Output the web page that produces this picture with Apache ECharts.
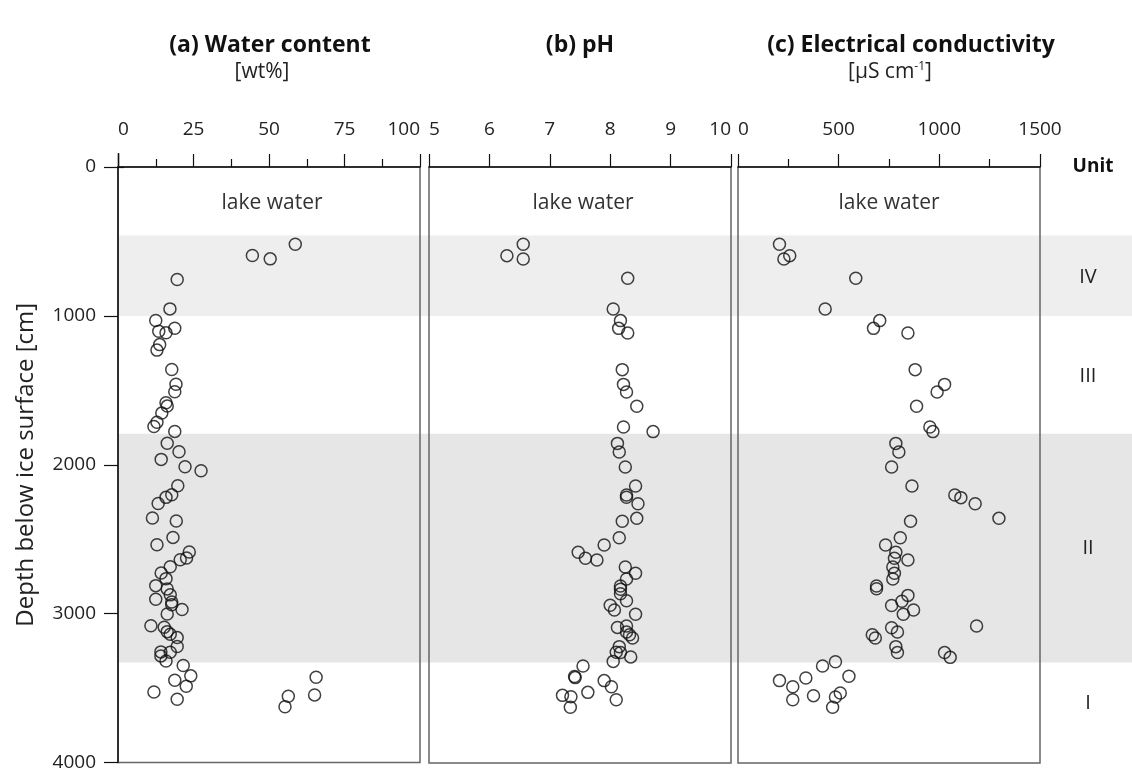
<!DOCTYPE html>
<html><head><meta charset="utf-8">
<script src="https://cdn.jsdelivr.net/npm/echarts@6/dist/echarts.min.js"></script>
<style>html,body{margin:0;padding:0;background:#fff}#c{width:1132px;height:772px}</style>
</head><body><div id="c"></div>
<script>
// ---- data ----
const wcDepth = [519,595,617,756,953,1031,1083,1103,1114,1193,1230,1360,1459,1510,1584,1606,1653,1714,1743,1776,1855,1913,1964,2013,2040,2141,2201,2219,2260,2358,2378,2488,2537,2586,2626,2638,2685,2727,2765,2812,2834,2874,2903,2922,2940,2972,3002,3081,3092,3121,3139,3161,3221,3257,3259,3284,3318,3349,3418,3427,3447,3488,3526,3546,3555,3575,3626];
const wcValue = [58.7,44.5,50.4,19.6,17.2,12.5,18.8,13.5,15.9,13.8,12.9,17.8,19.2,18.8,15.9,16.3,14.5,12.9,11.9,18.8,16.3,20.2,14.3,22.2,27.5,19.8,17.8,15.9,13.3,11.4,19.3,18.2,12.9,23.6,22.7,20.6,17.3,14.3,15.9,12.5,16.3,17.3,12.5,17.8,17.8,21.2,16.3,10.9,15.3,16.3,17.3,19.6,19.6,14.2,17.3,14.2,15.9,21.6,24.1,65.6,18.8,22.6,11.9,65.1,56.4,19.6,55.3];

const phDepth = [519,595,617,747,953,1031,1083,1114,1360,1459,1510,1606,1745,1776,1855,1913,2013,2141,2201,2217,2260,2358,2378,2488,2537,2586,2626,2638,2685,2727,2765,2812,2834,2864,2911,2941,2973,3002,3081,3090,3121,3139,3161,3219,3257,3259,3288,3318,3349,3420,3427,3447,3488,3526,3546,3555,3575,3626];
const phValue = [6.56,6.29,6.56,8.29,8.05,8.17,8.14,8.29,8.20,8.22,8.27,8.44,8.22,8.71,8.12,8.15,8.25,8.42,8.27,8.27,8.46,8.44,8.20,8.15,7.90,7.47,7.59,7.78,8.25,8.42,8.27,8.17,8.17,8.17,8.27,8.00,8.07,8.42,8.27,8.12,8.27,8.32,8.37,8.15,8.10,8.17,8.34,8.05,7.55,7.41,7.42,7.90,8.02,7.63,7.21,7.35,8.10,7.34];

const ecDepth = [519,595,617,747,953,1031,1083,1114,1360,1459,1510,1606,1745,1776,1855,1913,2013,2141,2201,2219,2260,2358,2378,2488,2537,2586,2626,2638,2685,2727,2765,2812,2830,2875,2915,2943,2973,3002,3081,3092,3121,3139,3161,3219,3259,3259,3291,3320,3349,3418,3430,3447,3488,3530,3548,3557,3575,3626];
const ecValue = [206,257,228,585,433,704,673,844,880,1026,989,887,953,968,784,799,763,864,1077,1107,1178,1296,857,806,733,784,777,844,769,777,769,688,688,844,814,763,872,821,1185,763,792,667,682,784,792,1026,1054,484,420,551,337,206,272,508,375,484,272,470];

const unitBands = [[460,1000],[1790,3325]];
const unitNames = ['IV','III','II','I'];
const panelTitles = ['(a) Water content','(b) pH','(c) Electrical conductivity'];

// ---- chart ----
const FONT = '"Open Sans", "Noto Sans", sans-serif';
const chart = echarts.init(document.getElementById('c'));
const TOP = 167, H = 596;
const gridBase = {top: TOP, height: H, show: true, borderColor: '#666', borderWidth: 1.5, backgroundColor: 'transparent'};
function xAx(gi, min, max, interval, minor, alignMin, alignMax) {
  return {
    gridIndex: gi, type: 'value', position: 'top', min: min, max: max, interval: interval,
    axisLine: {show: true, lineStyle: {color: '#111', width: 1.5}},
    axisTick: {show: true, length: 13, lineStyle: {color: '#111', width: 1.2}},
    minorTick: {show: minor, splitNumber: 2, length: 8, lineStyle: {color: '#111', width: 1.2}},
    axisLabel: {margin: 28, fontSize: 19, color: '#222', fontFamily: FONT,
      alignMinLabel: alignMin, alignMaxLabel: alignMax, formatter: v => String(v)},
    splitLine: {show: false}
  };
}
function yAx(gi, show) {
  return {
    gridIndex: gi, type: 'value', inverse: true, min: 0, max: 4000, interval: 1000, show: show,
    name: show ? 'Depth below ice surface [cm]' : '', nameLocation: 'middle', nameGap: 80, nameRotate: 90,
    nameTextStyle: {fontSize: 24, color: '#222', fontFamily: FONT},
    axisLine: {show: true, lineStyle: {color: '#111', width: 1.5}},
    axisTick: {show: true, length: 14, lineStyle: {color: '#111', width: 1.2}},
    axisLabel: {margin: 22, fontSize: 19, color: '#222', fontFamily: FONT, formatter: v => String(v)},
    splitLine: {show: false}
  };
}
function scat(xi, xs, ys) {
  return {
    type: 'scatter', xAxisIndex: xi, yAxisIndex: xi, symbol: 'circle', symbolSize: 12, z: 5,
    itemStyle: {color: 'rgba(0,0,0,0)', borderColor: '#111', borderWidth: 1.5},
    data: xs.map((v, i) => [v, ys[i]])
  };
}
const panelCenters = [272, 583, 889];
const graphics = [];
const titleX = [270, 580, 911];
panelTitles.forEach((t, i) => graphics.push({type: 'text', x: titleX[i], y: 45,
  style: {text: t, font: 'bold 23px ' + FONT, fill: '#111', textAlign: 'center', textVerticalAlign: 'middle'}}));
graphics.push({type: 'text', x: 262, y: 72, style: {text: '[wt%]', font: '21px ' + FONT, fill: '#222', textAlign: 'center', textVerticalAlign: 'middle'}});
graphics.push({type: 'text', x: 890, y: 72, style: {
  text: '[µS cm{s|-1}]', textAlign: 'center', textVerticalAlign: 'middle', font: '21px ' + FONT, fill: '#222',
  rich: {s: {fontSize: 12, verticalAlign: 'top', padding: [0, 0, 10, 0], fontFamily: FONT, fill: '#222'}}}});
panelCenters.forEach(cx => graphics.push({type: 'text', x: cx, y: 203,
  style: {text: 'lake water', font: '21px ' + FONT, fill: '#333', textAlign: 'center', textVerticalAlign: 'middle'}}));
graphics.push({type: 'text', x: 1093, y: 167, style: {text: 'Unit', font: 'bold 19px ' + FONT, fill: '#111', textAlign: 'center', textVerticalAlign: 'middle'}});
const unitLabelY = [277, 376, 548, 703];
unitNames.forEach((u, i) => graphics.push({type: 'text', x: 1088, y: unitLabelY[i],
  style: {text: u, font: '20px ' + FONT, fill: '#222', textAlign: 'center', textVerticalAlign: 'middle'}}));
graphics.push({type: 'line', shape: {x1: 118.5, y1: 153, x2: 118.5, y2: 167}, style: {stroke: '#111', lineWidth: 1.5}});
graphics.push({type: 'line', shape: {x1: 118, y1: 167.5, x2: 124, y2: 167.5}, style: {stroke: '#111', lineWidth: 1.2}});

const option = {
  animation: false,
  textStyle: {fontFamily: FONT},
  grid: [
    Object.assign({left: 118, width: 302}, gridBase),
    Object.assign({left: 429, width: 302}, gridBase),
    Object.assign({left: 738, width: 302}, gridBase),
    {left: 118, right: 0, top: TOP, height: H, show: false}
  ],
  xAxis: [
    xAx(0, 0, 100, 25, true, 'left', 'right'),
    xAx(1, 5, 10, 1, false, 'left', 'right'),
    xAx(2, 0, 1500, 500, true, 'left', 'center'),
    {gridIndex: 3, type: 'value', min: 0, max: 1, show: false}
  ],
  yAxis: [yAx(0, true), yAx(1, false), yAx(2, false),
    {gridIndex: 3, type: 'value', inverse: true, min: 0, max: 4000, show: false}],
  series: [
    {type: 'line', xAxisIndex: 3, yAxisIndex: 3, data: [], z: -1, silent: true,
     markArea: {silent: true, z: -1,
       data: unitBands.map((b, i) => [{yAxis: b[0], itemStyle: {color: i === 0 ? '#eeeeee' : '#e6e6e6'}}, {yAxis: b[1]}])}},
    scat(0, wcValue, wcDepth),
    scat(1, phValue, phDepth),
    scat(2, ecValue, ecDepth)
  ],
  graphic: graphics
};
chart.setOption(option);
</script></body></html>
